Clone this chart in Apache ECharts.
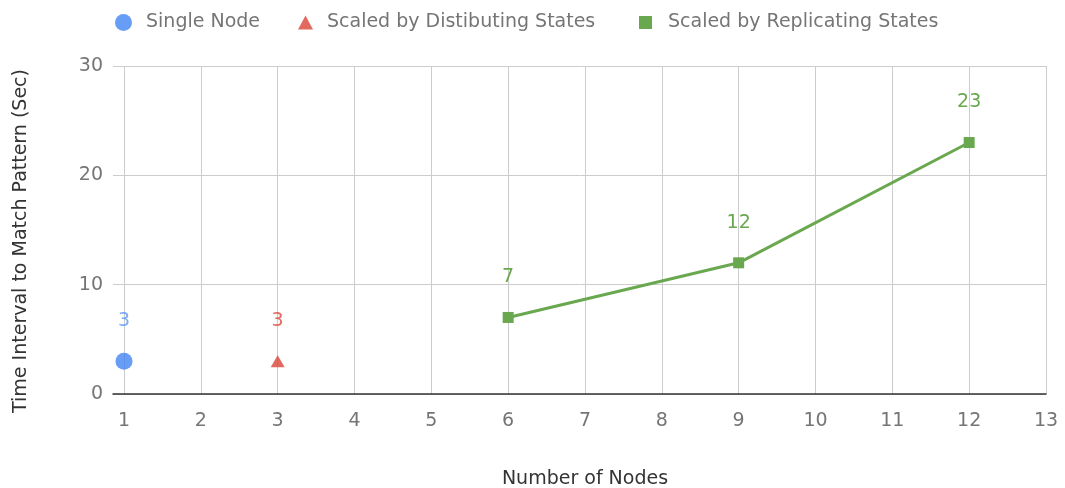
<!DOCTYPE html>
<html><head><meta charset="utf-8">
<script src="https://cdn.jsdelivr.net/npm/echarts@6/dist/echarts.min.js"></script>
<style>html,body{margin:0;padding:0;background:#fff}#c{width:1065px;height:488px}</style>
</head><body><div id="c"></div>
<script>
const singleNode = [[1, 3]];
const distributing = [[3, 3]];
const replicating = [[6, 7], [9, 12], [12, 23]];
const seriesNames = ['Single Node', 'Scaled by Distibuting States', 'Scaled by Replicating States'];
const colors = ['#4285F4', '#DB4437', '#6AA84F'];
const xTitle = 'Number of Nodes';
const yTitle = 'Time Interval to Match Pattern (Sec)';

const font = 'DejaVu Sans';
const fs = 19;
const chart = echarts.init(document.getElementById('c'), null, {renderer: 'canvas'});
const lbl = (c) => ({show: true, position: 'inside', offset: [0, -40], color: c, fontSize: fs, fontFamily: font, formatter: p => p.value[1]});
chart.setOption({
  animation: false,
  textStyle: {fontFamily: font},
  legend: [0, 1, 2].map((i) => ({
    data: [{name: seriesNames[i], icon: ['circle', 'triangle', 'rect'][i]}],
    top: 13, left: [115, 298, 639][i], padding: 0,
    itemWidth: [17, 15, 13][i], itemHeight: [17, 14, 13][i], itemGap: 0,
    textStyle: {color: '#757575', fontSize: fs, fontFamily: font, padding: [0, 0, 0, [9, 9, 11][i]]},
    selectedMode: false
  })),
  grid: [
    {left: 113, right: 19, top: 66, bottom: 94, containLabel: false, outerBoundsMode: 'none'},
    {left: 124, right: 19, top: 66, bottom: 94, containLabel: false, outerBoundsMode: 'none'}
  ],
  xAxis: [
    {gridIndex: 0, type: 'value', min: 0, max: 1, show: true,
     axisLine: {show: true, onZero: false, lineStyle: {color: '#333', width: 1.5}},
     axisTick: {show: false}, axisLabel: {show: false}, splitLine: {show: false}},
    {gridIndex: 1, type: 'value', min: 1, max: 13, interval: 1,
     name: xTitle, nameLocation: 'middle', nameGap: 76,
     nameTextStyle: {color: '#333', fontSize: fs, fontFamily: font},
     axisLine: {show: false}, axisTick: {show: false},
     axisLabel: {color: '#757575', fontSize: fs, fontFamily: font, margin: 18},
     splitLine: {show: true, lineStyle: {color: '#cccccc', width: 1}}}
  ],
  yAxis: [
    {gridIndex: 0, type: 'value', min: 0, max: 30, interval: 10,
     name: yTitle, nameLocation: 'middle', nameGap: 82,
     nameTextStyle: {color: '#333', fontSize: fs, fontFamily: font, padding: [0, 22, 0, 0]},
     axisLine: {show: false}, axisTick: {show: false},
     axisLabel: {color: '#757575', fontSize: fs, fontFamily: font, margin: 10},
     splitLine: {show: true, lineStyle: {color: '#cccccc', width: 1}}},
    {gridIndex: 1, type: 'value', min: 0, max: 30, interval: 10, show: false,
     splitLine: {show: false}}
  ],
  series: [
    {name: seriesNames[0], type: 'scatter', xAxisIndex: 1, yAxisIndex: 1, data: singleNode,
     symbol: 'circle', symbolSize: 17, itemStyle: {color: colors[0]}, label: lbl('#5a95f5'), clip: false, z: 5},
    {name: seriesNames[1], type: 'scatter', xAxisIndex: 1, yAxisIndex: 1, data: distributing,
     symbol: 'triangle', symbolSize: [14, 12], itemStyle: {color: colors[1]}, label: lbl(colors[1]), clip: false, z: 5},
    {name: seriesNames[2], type: 'line', xAxisIndex: 1, yAxisIndex: 1, data: replicating,
     symbol: 'rect', symbolSize: 11, showAllSymbol: true,
     lineStyle: {color: colors[2], width: 3}, itemStyle: {color: colors[2]},
     label: lbl(colors[2]), clip: false, z: 5}
  ]
});
</script></body></html>
